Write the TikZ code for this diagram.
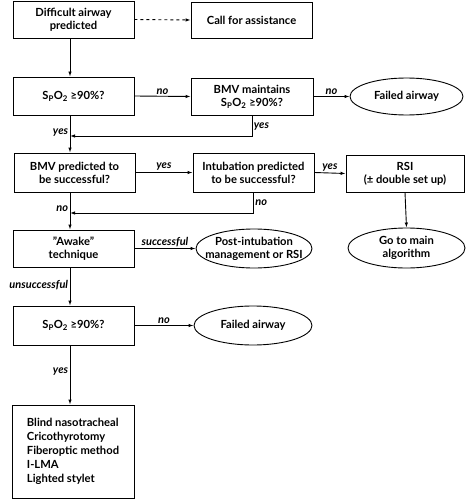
\documentclass[tikz,border=0pt]{standalone}
\usepackage{fontspec}
\setmainfont{Lato}
\usetikzlibrary{shapes.geometric,arrows.meta}
\begin{document}
\begin{tikzpicture}[x=1pt,y=-1pt,
  box/.style={draw,line width=0.9pt,rectangle,inner sep=0pt,align=center,font=\bfseries\fontsize{11.2}{13}\selectfont},
  oval/.style={draw,line width=0.9pt,ellipse,inner sep=0pt,align=center,font=\bfseries\fontsize{11.2}{13}\selectfont},
  conn/.style={line width=0.9pt,-{Latex[length=5pt,width=3.5pt]}},
  lbl/.style={font=\bfseries\itshape\fontsize{11}{12}\selectfont,inner sep=1.5pt}]
\useasboundingbox (0,0) rectangle (468,500);
\coordinate (vx) at (70,0);
\node[box,minimum width=121pt,minimum height=37pt] (d1) at (73.5,19.5) {Difficult airway\\predicted};
\node[box,minimum width=121pt,minimum height=36pt] (call) at (251.5,20) {Call for assistance};
\node[box,minimum width=121pt,minimum height=38pt] (s1) at (73.5,96) {S\textsubscript{P}O\textsubscript{2} ≥90\%?};
\node[box,minimum width=122pt,minimum height=37pt] (bmv) at (252,96.5) {BMV maintains\\S\textsubscript{P}O\textsubscript{2} ≥90\%?};
\node[oval,minimum width=113pt,minimum height=37pt] (fail1) at (406.5,96.5) {Failed airway};
\node[box,minimum width=121pt,minimum height=39pt] (bmvp) at (74.5,172.5) {BMV predicted to\\be successful?};
\node[box,minimum width=121pt,minimum height=39pt] (intub) at (253.5,172.5) {Intubation predicted\\to be successful?};
\node[box,minimum width=118pt,minimum height=37pt] (rsi) at (405,173.5) {RSI\\(± double set up)};
\node[oval,minimum width=117pt,minimum height=40pt,inner xsep=-6pt] (go) at (406.5,248) {Go to main\\algorithm};
\node[box,minimum width=121pt,minimum height=37pt] (awake) at (73.5,248.5) {"Awake"\\technique};
\node[oval,minimum width=116pt,minimum height=39pt,inner xsep=-14pt,inner ysep=-4pt] (post) at (254,248.5) {Post-intubation\\management or RSI};
\node[box,minimum width=121pt,minimum height=39pt] (s2) at (73.5,325.5) {S\textsubscript{P}O\textsubscript{2} ≥90\%?};
\node[oval,minimum width=118pt,minimum height=39pt] (fail2) at (253,325.5) {Failed airway};
\node[box,minimum width=122pt,minimum height=93pt,align=left,font=\bfseries\fontsize{11.2}{14}\selectfont] (list) at (73,451.5) {Blind nasotracheal\\Cricothyrotomy\\Fiberoptic method\\I-LMA\\Lighted stylet};

\draw[conn,dashed] (d1.east) -- (call.west);
\draw[conn] (d1.south -| vx) -- (s1.north -| vx);
\draw[conn] (s1.east) -- node[lbl,above] {no} (bmv.west);
\draw[conn] (bmv.east) -- node[lbl,above] {no} (fail1.west);
\coordinate (j1) at (70,136);
\draw[conn] (bmv.south) -- node[lbl,right,pos=0.55] {yes} (bmv.south |- j1) -- (j1);
\draw[conn] (s1.south -| vx) -- node[lbl,left,pos=0.45] {yes} (bmvp.north -| vx);
\draw[conn] (bmvp.east) -- node[lbl,above] {yes} (intub.west);
\draw[conn] (intub.east) -- node[lbl,above] {yes} (rsi.west);
\draw[conn] (rsi.south) -- (go.north);
\coordinate (j2) at (70,213);
\draw[conn] (intub.south) -- node[lbl,right,pos=0.5] {no} (intub.south |- j2) -- (j2);
\draw[conn] (bmvp.south -| vx) -- node[lbl,left,pos=0.45] {no} (awake.north -| vx);
\draw[conn] (awake.east) -- node[lbl,above] {successful} (post.west);
\draw[conn] (awake.south -| vx) -- node[lbl,left,pos=0.45] {unsuccessful} (s2.north -| vx);
\draw[conn] (s2.east) -- node[lbl,above] {no} (fail2.west);
\draw[conn] (s2.south -| vx) -- node[lbl,left,pos=0.45] {yes} (list.north -| vx);
\end{tikzpicture}
\end{document}
